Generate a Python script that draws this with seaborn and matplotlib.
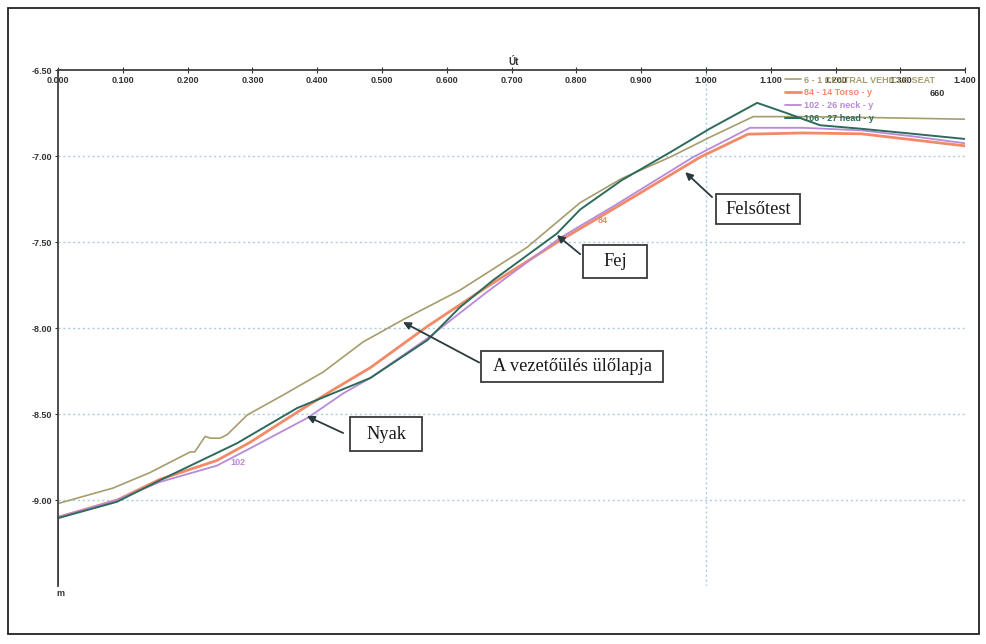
import pandas as pd
import seaborn as sns
import matplotlib.pyplot as plt
from matplotlib.patches import Rectangle
from matplotlib.ticker import FormatStrFormatter

# Path of the dummy (m) along the travel "Út"
seat_x = [0.000, 0.085, 0.142, 0.204, 0.211, 0.227, 0.235, 0.250, 0.261, 0.292, 0.347, 0.409,
          0.471, 0.533, 0.620, 0.724, 0.806, 0.870, 0.945, 1.006, 1.073, 1.150, 1.250, 1.400]
seat_y = [-9.02, -8.93, -8.84, -8.72, -8.72, -8.63, -8.64, -8.64, -8.62, -8.505, -8.39, -8.256,
          -8.08, -7.95, -7.78, -7.53, -7.27, -7.13, -7.005, -6.89, -6.77, -6.77, -6.775, -6.785]

torso_x = [0.000, 0.091, 0.157, 0.245, 0.296, 0.373, 0.424, 0.482, 0.570, 0.662, 0.775, 0.867,
           0.991, 1.065, 1.150, 1.240, 1.320, 1.400]
torso_y = [-9.10, -9.00, -8.88, -8.77, -8.665, -8.48, -8.36, -8.23, -7.99, -7.76, -7.49, -7.285,
           -7.006, -6.872, -6.865, -6.87, -6.905, -6.94]

neck_x = [0.000, 0.091, 0.157, 0.245, 0.296, 0.386, 0.440, 0.482, 0.570, 0.662, 0.775, 0.860,
          0.980, 1.068, 1.150, 1.240, 1.320, 1.400]
neck_y = [-9.10, -9.00, -8.895, -8.80, -8.70, -8.52, -8.38, -8.29, -8.06, -7.79, -7.475, -7.285,
          -7.006, -6.835, -6.835, -6.85, -6.885, -6.925]

head_x = [0.000, 0.000, 0.091, 0.160, 0.276, 0.369, 0.482, 0.570, 0.620, 0.672, 0.770, 0.806,
          0.870, 0.945, 1.006, 1.079, 1.125, 1.176, 1.238, 1.320, 1.400]
head_y = [-9.49, -9.105, -9.01, -8.88, -8.67, -8.465, -8.29, -8.07, -7.88, -7.72, -7.45, -7.31,
          -7.14, -6.977, -6.84, -6.69, -6.75, -6.82, -6.84, -6.87, -6.90]

series_names = ['6 - 1 CENTRAL VEHICLE SEAT', '84 - 14 Torso - y', '102 - 26 neck - y', '106 - 27 head - y']
series_colors = ['#a59d6c', '#f28a68', '#b88ad8', '#2e6b5c']
series_widths = [1.2, 2.0, 1.3, 1.4]

x_ticks = [0.0, 0.1, 0.2, 0.3, 0.4, 0.5, 0.6, 0.7, 0.8, 0.9, 1.0, 1.1, 1.2, 1.3, 1.4]
y_ticks = [-6.5, -7.0, -7.5, -8.0, -8.5, -9.0]

sns.set_style('white')
plt.rcParams['font.family'] = ['Liberation Sans', 'DejaVu Sans']

fig = plt.figure(figsize=(9.87, 6.44), dpi=100)
ax = fig.add_axes([0.0588, 0.090, 0.919, 0.801])

all_x = [seat_x, torso_x, neck_x, head_x]
all_y = [seat_y, torso_y, neck_y, head_y]
for xs, ys, name, col, lw in zip(all_x, all_y, series_names, series_colors, series_widths):
    df = pd.DataFrame({'x': xs, 'y': ys})
    sns.lineplot(data=df, x='x', y='y', sort=False, estimator=None, color=col,
                 linewidth=lw, label=name, ax=ax)

ax.set_xlim(0, 1.4)
ax.set_ylim(-9.5, -6.5)
ax.set_xlabel('')
ax.set_ylabel('')

# axis on top, tick labels inside
ax.xaxis.tick_top()
ax.set_xticks(x_ticks)
ax.xaxis.set_major_formatter(FormatStrFormatter('%.3f'))
ax.tick_params(axis='x', direction='inout', length=4, pad=-13, labelsize=6.5,
               labelcolor='#333333', color='#333333')
ax.set_yticks(y_ticks)
ax.yaxis.set_major_formatter(FormatStrFormatter('%.2f'))
ax.tick_params(axis='y', direction='out', length=2, pad=2, labelsize=6.5,
               labelcolor='#333333', color='#333333', left=True)
for lab in ax.get_xticklabels() + ax.get_yticklabels():
    lab.set_fontweight('bold')

for s in ['right', 'bottom']:
    ax.spines[s].set_visible(False)
for s in ['left', 'top']:
    ax.spines[s].set_color('#404040')
    ax.spines[s].set_linewidth(1.3)

# grid: dotted horizontal lines, one vertical at 1.0
for yv in y_ticks[1:]:
    ax.axhline(yv, color='#a9cde3', linestyle=(0, (1.5, 2)), linewidth=1, zorder=0)
ax.axvline(1.0, color='#a9cde3', linestyle=(0, (1.5, 2)), linewidth=1, zorder=0)

ax.text(0.502, 1.016, 'Út', transform=ax.transAxes, ha='center', va='center',
        fontsize=7, fontweight='bold', color='#333333')
ax.text(0.003, -0.014, 'm', transform=ax.transAxes, ha='center', va='center',
        fontsize=6.5, fontweight='bold', color='#333333')
ax.text(0.969, 0.955, '660', transform=ax.transAxes, ha='center', va='center',
        fontsize=6.5, fontweight='bold', color='#333333')

# small series tags on the curves
ax.text(0.841, -7.372, '84', color='#f28a68', fontsize=6.5, fontweight='bold', ha='center', va='center')
ax.text(0.278, -8.779, '102', color='#b88ad8', fontsize=6.5, fontweight='bold', ha='center', va='center')

leg = ax.legend(loc='upper left', bbox_to_anchor=(0.80, 0.993), frameon=False,
                fontsize=6.5, handlelength=1.7, handletextpad=0.3, labelspacing=0.42,
                borderaxespad=0, borderpad=0.2, labelcolor='linecolor')
for t in leg.get_texts():
    t.set_fontweight('bold')

# labelled boxes with arrows: (text, box x0, x1, y_bottom, y_top, arrow start, arrow tip)
notes = [('Felsőtest', 1.0157, 1.1453, -7.395, -7.221, (1.0095, -7.238), (0.968, -7.093)),
         ('Fej', 0.8104, 0.9092, -7.709, -7.517, (0.806, -7.570), (0.770, -7.459)),
         ('A vezetőülés ülőlapja', 0.6529, 0.9338, -8.314, -8.134, (0.650, -8.200), (0.5325, -7.965)),
         ('Nyak', 0.4507, 0.5618, -8.715, -8.517, (0.440, -8.610), (0.384, -8.512))]
for label, x0, x1, yb, yt, start, tip in notes:
    ax.add_patch(Rectangle((x0, yb), x1 - x0, yt - yb, facecolor='white', edgecolor='#3a3a3a',
                           linewidth=1.3, zorder=4))
    ax.text((x0 + x1) / 2, (yb + yt) / 2, label, ha='center', va='center', fontsize=13.2,
            family=['Liberation Serif', 'DejaVu Serif'], color='#1a1a1a', zorder=6)
    ax.annotate('', xy=tip, xytext=start,
                arrowprops=dict(arrowstyle='-|>', color='#2b3a3f', lw=1.3,
                                shrinkA=0, shrinkB=0, mutation_scale=11), zorder=5)

# outer frame of the picture
fig.patches.append(Rectangle((0.0081, 0.0155), 0.984, 0.972, transform=fig.transFigure,
                             fill=False, edgecolor='#222222', linewidth=1.3))

plt.savefig('out.png', dpi=100)
